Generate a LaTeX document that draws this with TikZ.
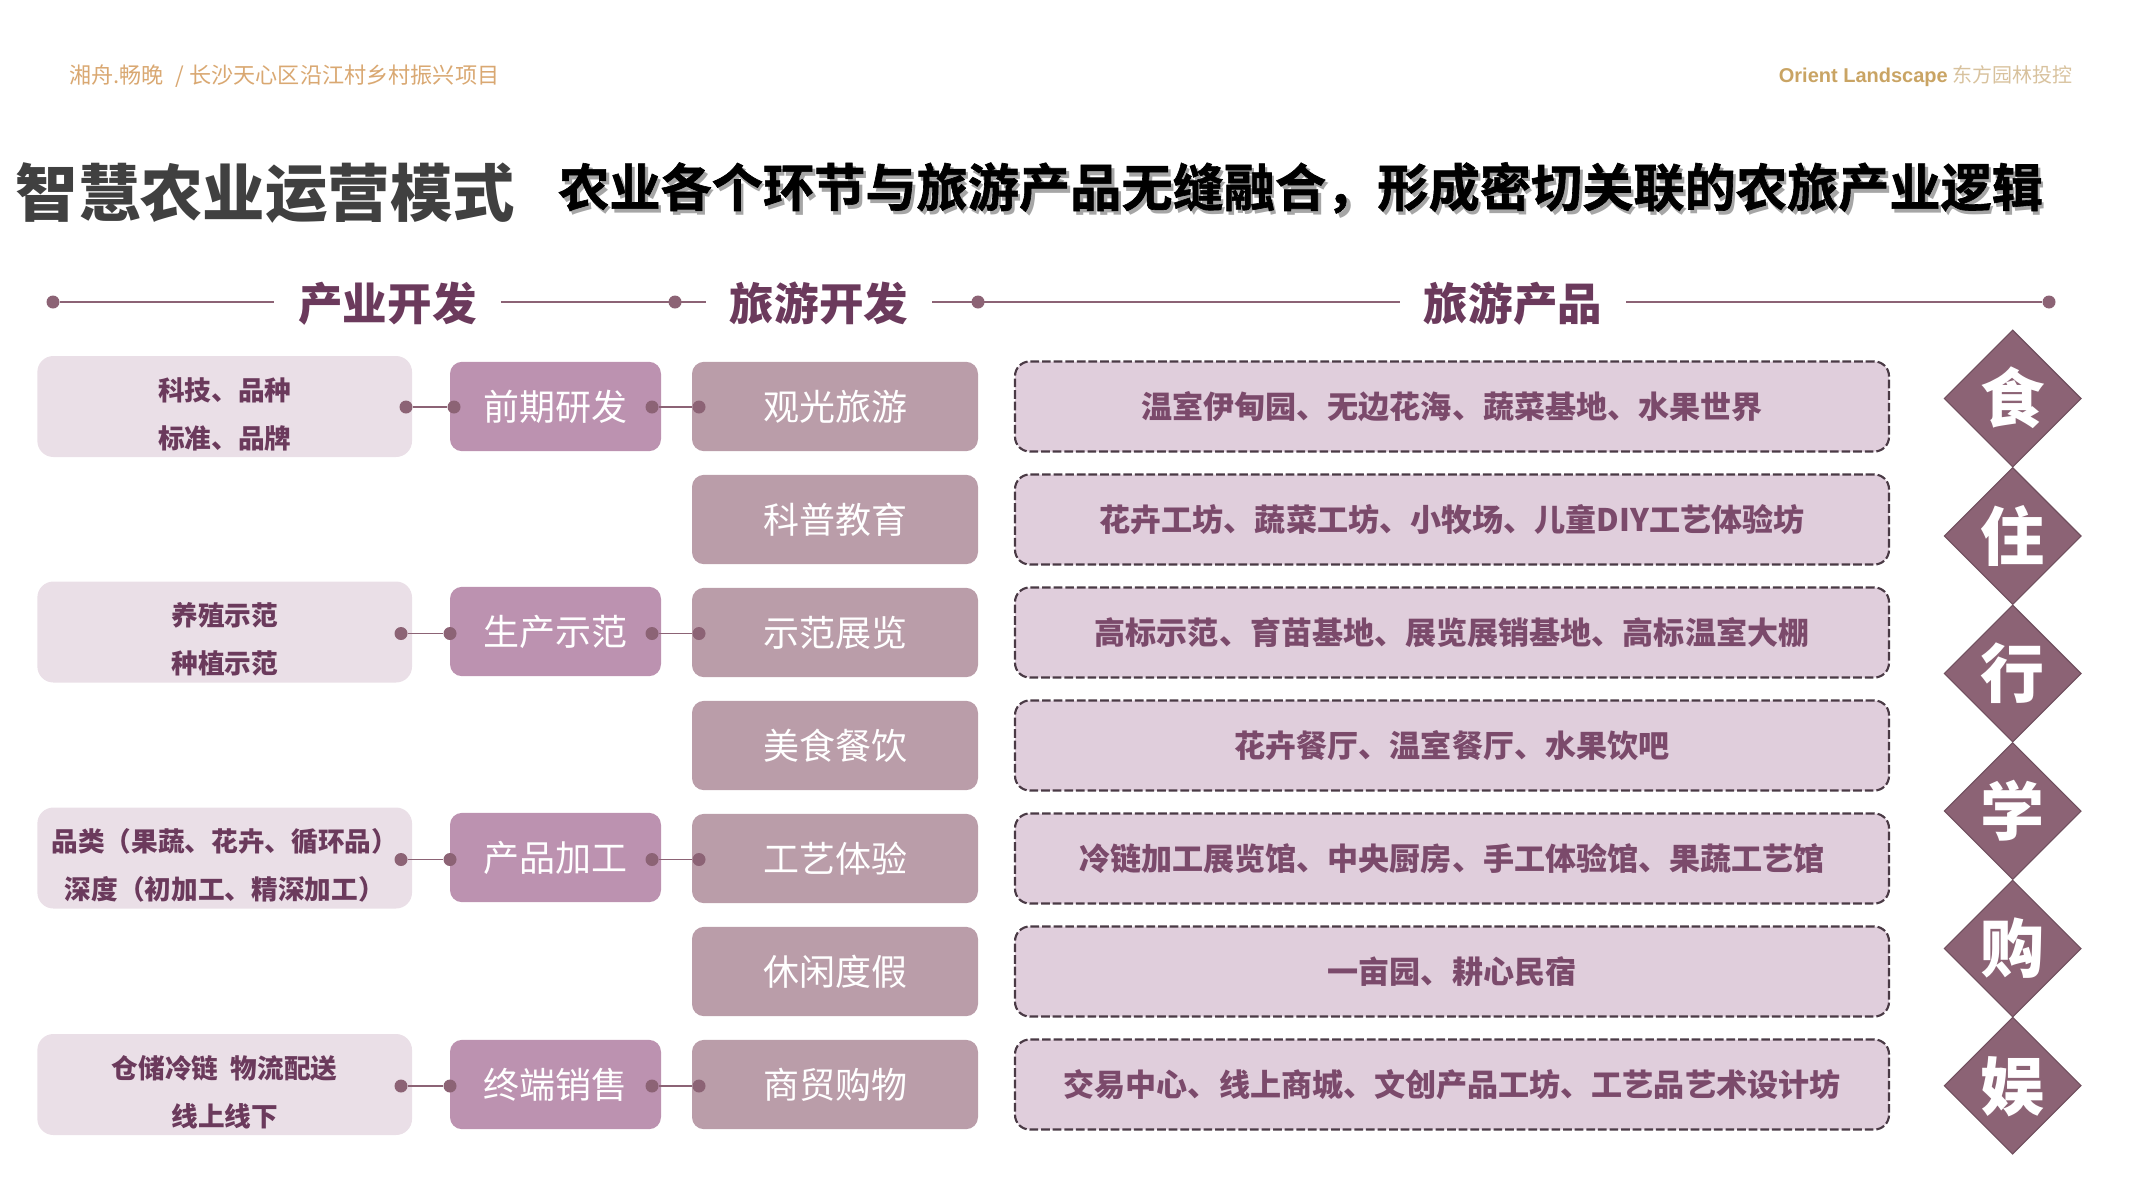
\documentclass[tikz,border=0pt]{standalone}
\usepackage{fontspec}
\usepackage{xcolor}
\setmainfont{Noto Sans CJK SC}
\newfontfamily\heavyfont[UprightFont=* Bold,FakeBold=1.2]{Noto Sans CJK SC}
\newfontfamily\latinfont{Liberation Sans}
\usetikzlibrary{shapes.geometric}
\definecolor{sidefill}{HTML}{EADFE7}
\definecolor{stagefill}{HTML}{BC92B0}
\definecolor{tourfill}{HTML}{BA9DA9}
\definecolor{prodfill}{HTML}{E0CEDC}
\definecolor{dotcol}{HTML}{8C6375}
\definecolor{headcol}{HTML}{6B3A5C}
\definecolor{prodtext}{HTML}{7B4A6B}
\definecolor{dashcol}{HTML}{4A3A45}
\definecolor{goldlight}{HTML}{D9A872}
\definecolor{goldbold}{HTML}{C9A464}
\definecolor{goldpale}{HTML}{D8C29E}
\newcommand{\sidetop}{\rule{0pt}{28.5pt}}
\tikzset{fsz/.style={font=\fontsize{#1}{#1}\selectfont, text height=0.88*#1, text depth=0.12*#1},
    bfsz/.style={font=\bfseries\fontsize{#1}{#1}\selectfont, text height=0.88*#1, text depth=0.12*#1}}
\tikzstyle{sidebox} = [rectangle, rounded corners=12pt, minimum width=281pt, minimum height=75.75pt, inner sep=0pt, fill=sidefill, text=headcol, align=center, font=\bfseries\fontsize{20pt}{36pt}\selectfont]
\tikzstyle{stagebox} = [rectangle, rounded corners=9pt, minimum width=158.25pt, minimum height=67pt, inner sep=0pt, fill=stagefill, text=white, fsz=27pt]
\tikzstyle{tourbox} = [rectangle, rounded corners=9pt, minimum width=214.5pt, minimum height=67pt, inner sep=0pt, fill=tourfill, text=white, fsz=27pt]
\tikzstyle{prodbox} = [rectangle, rounded corners=11pt, minimum width=655.5pt, minimum height=67.5pt, inner sep=0pt, fill=prodfill, draw=dashcol, line width=1.6pt, dash pattern=on 6.5pt off 2.2pt, text=prodtext, bfsz=23.3pt]
\tikzstyle{sense} = [diamond, aspect=1, minimum width=102.75pt, minimum height=102.75pt, inner sep=0pt, fill=dotcol, draw=dotcol!80!black, line width=0.8pt, text=white, bfsz=48pt]
\tikzstyle{heads} = [minimum width=169.5pt, inner sep=0pt, text=headcol, bfsz=33.4pt, text height=31.4pt]
\tikzstyle{dotc} = [circle, minimum size=9.75pt, inner sep=0pt, fill=dotcol]
\tikzstyle{line} = [line width=1.2pt, dotcol]

\begin{document}
\begin{tikzpicture}[x=0.75pt, y=0.75pt, node distance=84.75pt]
        \useasboundingbox (0,0) rectangle (2133,-1200);

        \node[anchor=west, text=goldlight, fsz=16.6pt] (project) at (64.5,-75) {湘舟.畅晚\ \ \hspace{1.5pt}/ 长沙天心区沿江村乡村振兴项目};
        \node[anchor=east, text=goldpale, fsz=15pt] (company) at (2077,-75) {{\latinfont\bfseries\color{goldbold}Orient Landscape} 东方园林投控};

        \node[anchor=west, text=black!75, bfsz=46.8pt] (title) at (11,-193) {智慧农业运营模式};
        \node[anchor=west, text=black!35, font=\bfseries\fontsize{38.4pt}{38.4pt}\selectfont, text height=33.8pt, text depth=4.6pt] (shade) at (556.5,-191) {农业各个环节与旅游产品无缝融合，形成密切关联的农旅产业逻辑};
        \node[anchor=west, text=black, font=\heavyfont\fontsize{38.4pt}{38.4pt}\selectfont, text height=33.8pt, text depth=4.6pt] (subtitle) at (553.5,-187) {农业各个环节与旅游产品无缝融合，形成密切关联的农旅产业逻辑};

        % column heads
        \node[heads] (headA) at (387.5,-302) {产业开发};
        \node[heads] (headB) at (819,-302) {旅游开发};
        \node[heads] (headC) at (1513,-302) {旅游产品};
        \node[dotc] (dotA) at (53,-302) {};
        \node[dotc] (dotB) at (675,-302) {};
        \node[dotc] (dotC) at (978,-302) {};
        \node[dotc] (dotD) at (2049,-302) {};
        \draw[line] (dotA) -- (headA);
        \draw[line] (headA) -- (headB);
        \draw[line] (headB) -- (headC);
        \draw[line] (headC) -- (dotD);

        % tourism column
        \node[tourbox] (guan) at (835,-406.5) {观光旅游};
        \node[tourbox, below of=guan] (kepu) {科普教育};
        \node[tourbox, below of=kepu] (shifan) {示范展览};
        \node[tourbox, below of=shifan] (meishi) {美食餐饮};
        \node[tourbox, below of=meishi] (gongyi) {工艺体验};
        \node[tourbox, below of=gongyi] (xiuxian) {休闲度假};
        \node[tourbox, below of=xiuxian] (shangmao) {商贸购物};

        % products column
        \node[prodbox] (prodA) at (1452,-406.5) {温室伊甸园、无边花海、蔬菜基地、水果世界};
        \node[prodbox, below of=prodA] (prodB) {花卉工坊、蔬菜工坊、小牧场、儿童DIY工艺体验坊};
        \node[prodbox, below of=prodB] (prodC) {高标示范、育苗基地、展览展销基地、高标温室大棚};
        \node[prodbox, below of=prodC] (prodD) {花卉餐厅、温室餐厅、水果饮吧};
        \node[prodbox, below of=prodD] (prodE) {冷链加工展览馆、中央厨房、手工体验馆、果蔬工艺馆};
        \node[prodbox, below of=prodE] (prodF) {一亩园、耕心民宿};
        \node[prodbox, below of=prodF] (prodG) {交易中心、线上商城、文创产品工坊、工艺品艺术设计坊};

        % industry stages
        \node[stagebox] (yanfa) at (555.5,-406.5) {前期研发};
        \node[stagebox] (shengchan) at (555.5,-631.5) {生产示范};
        \node[stagebox] (jiagong) at (555.5,-857.5) {产品加工};
        \node[stagebox] (xiaoshou) at (555.5,-1084.5) {终端销售};

        \node[sidebox] (keji) at (224.7,-406.5) {\sidetop 科技、品种\\标准、品牌};
        \node[sidebox] (yangzhi) at (224.7,-632) {\sidetop 养殖示范\\种植示范};
        \node[sidebox] (pinlei) at (224.7,-858) {\sidetop 品类（果蔬、花卉、循环品）\\深度（初加工、精深加工）};
        \node[sidebox] (cangchu) at (224.7,-1084.5) {\sidetop 仓储冷链\ \ 物流配送\\线上线下};

        \node[dotc] (a1) at (406,-407) {};
        \node[dotc] (b1) at (454,-407) {};
        \node[dotc] (c1) at (652,-407) {};
        \node[dotc] (d1) at (699,-407) {};
        \node[dotc] (a2) at (401,-633.5) {};
        \node[dotc] (b2) at (450,-633.5) {};
        \node[dotc] (c2) at (652,-633.5) {};
        \node[dotc] (d2) at (699,-633.5) {};
        \node[dotc] (a3) at (401,-859.5) {};
        \node[dotc] (b3) at (450,-859.5) {};
        \node[dotc] (c3) at (652,-859.5) {};
        \node[dotc] (d3) at (699,-859.5) {};
        \node[dotc] (a4) at (401,-1086) {};
        \node[dotc] (b4) at (450,-1086) {};
        \node[dotc] (c4) at (652,-1086) {};
        \node[dotc] (d4) at (699,-1086) {};
        \draw[line] (a1) -- (b1);
        \draw[line] (c1) -- (d1);
        \draw[line] (a2) -- (b2);
        \draw[line] (c2) -- (d2);
        \draw[line] (a3) -- (b3);
        \draw[line] (c3) -- (d3);
        \draw[line] (a4) -- (b4);
        \draw[line] (c4) -- (d4);

        % six senses
        \node[sense] (shi) at (2012.7,-398.5) {食};
        \node[sense] (zhu) at (2012.7,-536) {住};
        \node[sense] (xing) at (2012.7,-673.5) {行};
        \node[sense] (xue) at (2012.7,-811) {学};
        \node[sense] (gou) at (2012.7,-948.5) {购};
        \node[sense] (yu) at (2012.7,-1085.7) {娱};

    \end{tikzpicture}
\end{document}
